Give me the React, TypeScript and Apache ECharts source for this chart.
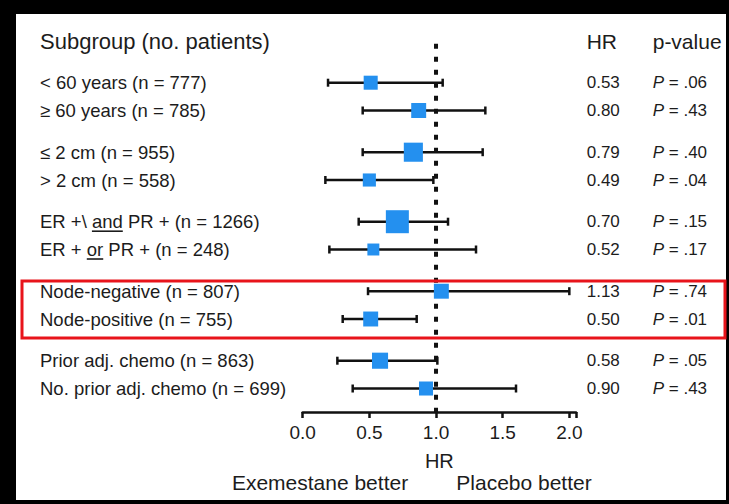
import React, { useEffect, useRef } from "react";
import * as echarts from "echarts";

// ---- data ----
const rowLabels = [
  "< 60 years (n = 777)",
  "≥ 60 years (n = 785)",
  "≤ 2 cm (n = 955)",
  "> 2 cm (n = 558)",
  "ER +\\ and PR + (n = 1266)",
  "ER + or PR + (n = 248)",
  "Node-negative (n = 807)",
  "Node-positive (n = 755)",
  "Prior adj. chemo (n = 863)",
  "No. prior adj. chemo (n = 699)",
];
const rowPos = [0, 1, 2.5, 3.5, 5, 6, 7.5, 8.5, 10, 11];
const hrValues = [0.53, 0.8, 0.79, 0.49, 0.7, 0.52, 1.13, 0.5, 0.58, 0.9];
const pValues = [".06", ".43", ".40", ".04", ".15", ".17", ".74", ".01", ".05", ".43"];
const pointEst = [0.51, 0.87, 0.83, 0.5, 0.71, 0.53, 1.04, 0.51, 0.58, 0.925];
const ciLow = [0.19, 0.45, 0.45, 0.17, 0.42, 0.2, 0.49, 0.3, 0.26, 0.375];
const ciHigh = [1.05, 1.37, 1.35, 0.98, 1.09, 1.3, 2.0, 0.855, 1.01, 1.6];
const boxWeight = [0.61, 0.65, 0.83, 0.57, 1.0, 0.52, 0.65, 0.65, 0.7, 0.61];
const xTickValues = [0, 0.5, 1, 1.5, 2];
const headerPos = -1.5;

const FONT = '"Liberation Sans", Arial, Helvetica, sans-serif';
const TEXT = "#1c1c1c";
const ROW_FS = 18.5;

export default function App() {
  const ref = useRef<HTMLDivElement>(null);
  useEffect(() => {
    if (!ref.current) return;
    const chart = echarts.init(ref.current, undefined, { renderer: "svg" });
    const findRow = (v: number) => rowPos.findIndex((p) => Math.abs(p - v) < 1e-6);

    const forestData = rowPos.map((p, i) => [pointEst[i], ciLow[i], ciHigh[i], p, boxWeight[i]]);

    const yBase = {
      type: "value",
      inverse: true,
      min: -2,
      max: 11.845,
      interval: 0.5,
      axisLine: { show: false },
      axisTick: { show: false },
      splitLine: { show: false },
    };

    chart.setOption({
      animation: false,
      backgroundColor: "#000",
      textStyle: { fontFamily: FONT },
      grid: { left: 302.7, right: 153, top: 27.1, bottom: 92 },
      xAxis: {
        type: "value",
        min: 0,
        max: 2.05,
        interval: 0.5,
        name: "HR",
        nameLocation: "middle",
        nameGap: 39,
        nameTextStyle: { fontSize: 20, color: TEXT, fontFamily: FONT },
        axisLine: { onZero: false, lineStyle: { color: "#111", width: 2.5 } },
        axisTick: { length: 6, lineStyle: { color: "#111", width: 2.5 } },
        splitLine: { show: false },
        axisLabel: {
          fontSize: 19,
          color: TEXT,
          margin: 11,
          formatter: (v: number) =>
            xTickValues.some((t) => Math.abs(t - v) < 1e-6) ? v.toFixed(1) : "",
        },
      },
      yAxis: [
        {
          ...yBase,
          position: "left",
          axisLabel: {
            align: "left",
            margin: 262.7,
            fontSize: ROW_FS,
            color: TEXT,
            formatter: (v: number) => {
              if (Math.abs(v - headerPos) < 1e-6) return "{h|Subgroup (no. patients)}";
              const i = findRow(v);
              return i >= 0 ? rowLabels[i] : "";
            },
            rich: { h: { fontSize: 22, color: TEXT, fontFamily: FONT } },
          },
        },
        {
          ...yBase,
          position: "right",
          axisLabel: {
            align: "left",
            margin: 10.7,
            fontSize: 17,
            color: TEXT,
            formatter: (v: number) => {
              if (Math.abs(v - headerPos) < 1e-6) return "{hh|HR}{ph|p-value}";
              const i = findRow(v);
              if (i < 0) return "";
              return `{hr|${hrValues[i].toFixed(2)}}{pi|P}{pv| = ${pValues[i]}}`;
            },
            rich: {
              hh: { fontSize: 21, width: 66, color: TEXT, fontFamily: FONT },
              ph: { fontSize: 21, color: TEXT, fontFamily: FONT },
              hr: { fontSize: 17, width: 66, color: TEXT, fontFamily: FONT },
              pi: { fontSize: 17, fontStyle: "italic", color: TEXT, fontFamily: FONT },
              pv: { fontSize: 17, color: TEXT, fontFamily: FONT },
            },
          },
        },
      ],
      series: [
        {
          type: "line",
          yAxisIndex: 0,
          data: [
            [1, -1.4],
            [1, 11.845],
          ],
          showSymbol: false,
          symbol: "none",
          silent: true,
          z: 1,
          lineStyle: { color: "#111", width: 4, type: [5, 8] },
        },
        {
          type: "custom",
          yAxisIndex: 0,
          z: 3,
          clip: false,
          encode: { x: [0, 1, 2], y: 3 },
          data: forestData,
          renderItem: (params: any, api: any) => {
            const y = api.value(3);
            const c = api.coord([api.value(0), y]);
            const l = api.coord([api.value(1), y]);
            const h = api.coord([api.value(2), y]);
            const s = api.value(4) * 23;
            const ls = { stroke: "#111", lineWidth: 2.5 };
            return {
              type: "group",
              children: [
                { type: "line", shape: { x1: l[0], y1: c[1], x2: h[0], y2: c[1] }, style: ls },
                { type: "line", shape: { x1: l[0], y1: c[1] - 4, x2: l[0], y2: c[1] + 4 }, style: ls },
                { type: "line", shape: { x1: h[0], y1: c[1] - 4, x2: h[0], y2: c[1] + 4 }, style: ls },
                {
                  type: "rect",
                  shape: { x: c[0] - s / 2, y: c[1] - s / 2, width: s, height: s },
                  style: { fill: "#2490ef" },
                },
              ],
            };
          },
        },
      ],
    });

    // underlines for "and" / "or" and other annotations
    const cv = document.createElement("canvas");
    const ctx = cv.getContext("2d")!;
    ctx.font = `${ROW_FS}px ${FONT}`;
    const underline = (prefix: string, word: string, pos: number) => {
      const x0 = 40 + ctx.measureText(prefix).width;
      const w = ctx.measureText(word).width;
      const y = (chart.convertToPixel({ yAxisIndex: 0 } as any, pos) as number) + 9.5;
      return {
        type: "line",
        shape: { x1: x0, y1: y, x2: x0 + w, y2: y },
        style: { stroke: TEXT, lineWidth: 1.6 },
      };
    };

    chart.setOption({
      graphic: [
        {
          type: "rect",
          z: -100,
          silent: true,
          shape: { x: 16, y: 14, width: 710, height: 486 },
          style: { fill: "#fff" },
        },
        underline("ER +\\ ", "and", rowPos[4]),
        underline("ER + ", "or", rowPos[5]),
        {
          type: "text",
          x: 320,
          y: 482,
          style: {
            text: "Exemestane better",
            fontSize: 21,
            fontFamily: FONT,
            fill: TEXT,
            align: "center",
            verticalAlign: "middle",
          },
        },
        {
          type: "text",
          x: 524,
          y: 482,
          style: {
            text: "Placebo better",
            fontSize: 21,
            fontFamily: FONT,
            fill: TEXT,
            align: "center",
            verticalAlign: "middle",
          },
        },
        {
          type: "rect",
          z: 10,
          silent: true,
          shape: { x: 22, y: 281, width: 703, height: 57 },
          style: { fill: "none", stroke: "#e8141b", lineWidth: 3 },
        },
      ],
    });

    return () => chart.dispose();
  }, []);

  return (
    <div
      ref={ref}
      style={{ position: "fixed", left: 0, top: 0, width: 729, height: 504 }}
    />
  );
}
